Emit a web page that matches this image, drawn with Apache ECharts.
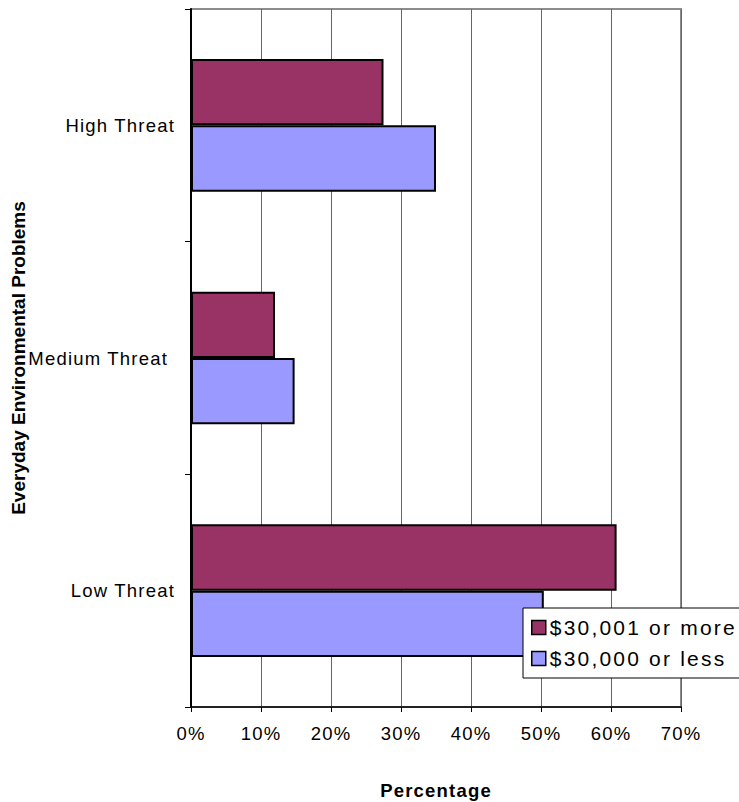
<!DOCTYPE html>
<html>
<head>
<meta charset="utf-8">
<script src="https://cdn.jsdelivr.net/npm/echarts@6/dist/echarts.min.js"></script>
<style>
  html, body { margin: 0; padding: 0; background: #fff; }
  #chart { width: 739px; height: 802px; }
  /* slightly tracked-out lettering for the chart texts */
  #chart svg text { letter-spacing: 1.2px; }
  #chart svg text[style*="19px"] { letter-spacing: 0; }
  #chart svg text[style*="21px"] { letter-spacing: 2.2px; }
</style>
</head>
<body>
<div id="chart"></div>
<script>
// Threat levels, listed top to bottom
const categories = ['High Threat', 'Medium Threat', 'Low Threat'];
// Income groups
const seriesNames = ['$30,001 or more', '$30,000 or less'];
// Share of respondents (%) per threat level
const above30k = [27.5, 12.0, 60.8];
const below30k = [35.0, 14.8, 50.4];
// Percentage axis
const xTicks = { min: 0, max: 70, interval: 10 };

const FONT = "'Liberation Sans', Arial, sans-serif";

const chart = echarts.init(document.getElementById('chart'), null, { renderer: 'svg' });

chart.setOption({
  animation: false,
  backgroundColor: '#fff',
  textStyle: { fontFamily: FONT, color: '#000' },
  grid: {
    left: 191, right: 58, top: 9, bottom: 95,
    containLabel: false,
    outerBoundsMode: 'none',
    show: true,
    borderColor: '#8c8c8c',
    borderWidth: 2,
    backgroundColor: '#fff'
  },
  legend: {
    orient: 'vertical',
    left: 523,
    top: 608,
    data: [seriesNames[0], seriesNames[1]],
    backgroundColor: '#fff',
    borderColor: '#000',
    borderWidth: 1,
    padding: [9, 38, 9, 8],
    itemGap: 10,
    itemWidth: 14,
    itemHeight: 14,
    icon: 'rect',
    itemStyle: { borderColor: '#000', borderWidth: 1.5 },
    textStyle: { fontFamily: FONT, fontSize: 21, color: '#000', padding: [0, 0, 0, -1] }
  },
  xAxis: {
    type: 'value',
    min: xTicks.min,
    max: xTicks.max,
    interval: xTicks.interval,
    name: 'Percentage',
    nameLocation: 'middle',
    nameGap: 74,
    nameTextStyle: { fontFamily: FONT, fontSize: 18.5, fontWeight: 'bold', color: '#000' },
    axisLine: { show: true, lineStyle: { color: '#000', width: 1.5 } },
    axisTick: { show: true, length: 5, lineStyle: { color: '#000' } },
    axisLabel: {
      formatter: '{value}%',
      margin: 17,
      fontFamily: FONT,
      fontSize: 18.5,
      color: '#000'
    },
    splitLine: { show: true, lineStyle: { color: '#666', width: 1 } }
  },
  yAxis: {
    type: 'category',
    inverse: true,
    data: categories,
    name: 'Everyday Environmental Problems',
    nameLocation: 'middle',
    nameGap: 163,
    nameTextStyle: { fontFamily: FONT, fontSize: 19, fontWeight: 'bold', color: '#000' },
    axisLine: { show: true, lineStyle: { color: '#000', width: 2 } },
    axisTick: { show: true, length: 6, lineStyle: { color: '#000' } },
    axisLabel: {
      margin: 16,
      fontFamily: FONT,
      fontSize: 18.5,
      color: '#000',
      formatter: function (v) {
        return v === 'Medium Threat' ? '{m|' + v + '}' : v;
      },
      rich: {
        m: { fontFamily: FONT, fontSize: 18.5, color: '#000', padding: [0, 7, 0, 0] }
      }
    },
    splitLine: { show: false }
  },
  series: [
    {
      name: seriesNames[0],
      type: 'bar',
      data: above30k,
      barGap: '0%',
      barCategoryGap: '43%',
      itemStyle: { color: '#993366', borderColor: '#000', borderWidth: 2 }
    },
    {
      name: seriesNames[1],
      type: 'bar',
      data: below30k,
      barGap: '0%',
      barCategoryGap: '43%',
      itemStyle: { color: '#9999ff', borderColor: '#000', borderWidth: 2 }
    }
  ]
});
</script>
</body>
</html>
